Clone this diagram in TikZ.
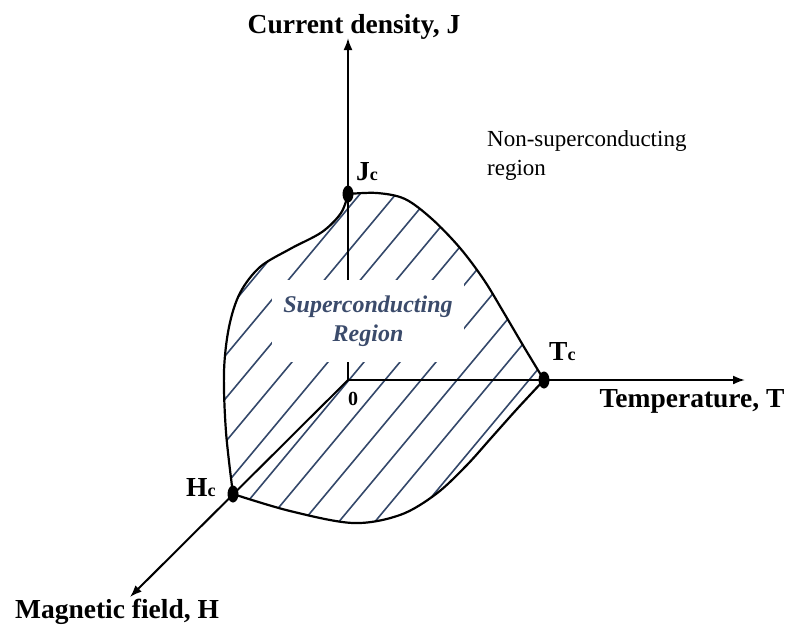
\documentclass[tikz,border=0pt]{standalone}
\usepackage{fontspec}
\setmainfont{Liberation Serif}
\usetikzlibrary{arrows.meta,shapes.geometric}
\definecolor{hatchcol}{HTML}{34486A}
\definecolor{sctext}{HTML}{3B4B6B}
\newcommand\mysubc{{\fontsize{18}{18}\selectfont c}}
\begin{document}
\begin{tikzpicture}[x=1pt,y=-1pt,
  axis/.style={line width=2pt,-{Latex[length=12pt,width=9pt]}},
  bound/.style={line width=2.2pt,line join=round},
  hatchline/.style={hatchcol,line width=1.6pt},
  dot/.style={ellipse,fill=black,inner sep=0pt,minimum width=11pt,minimum height=17pt},
  axlabel/.style={font=\fontsize{27.5}{27.5}\selectfont\bfseries,inner sep=0pt,anchor=base},
  ptlabel/.style={font=\fontsize{27.5}{27.5}\selectfont\bfseries,inner sep=0pt,anchor=base west},
  plainlabel/.style={font=\fontsize{23}{23}\selectfont,inner sep=0pt,anchor=base west},
  sclabel/.style={font=\fontsize{24}{29}\selectfont\bfseries\itshape,text=sctext,align=center,fill=white,inner sep=0pt,minimum width=192pt,minimum height=82pt}
]
\useasboundingbox (0,0) rectangle (790,624);
\fill[white] (0,0) rectangle (790,624);

% coordinates
\coordinate (O) at (348,380);
\coordinate (Jtip) at (348,38);
\coordinate (Ttip) at (745,380);
\coordinate (Htip) at (130,597);

% hatching clipped to the superconducting region
\begin{scope}
  \clip plot[smooth,tension=0.55] coordinates {(348,194) (377,193) (405,199) (432,219) (460,248) (484,280) (504,313) (524,347) (544,380)}
     -- plot[smooth,tension=0.55] coordinates {(544,380) (517,409) (492,437) (466,466) (436,494) (400,515) (353,523) (290,511) (233,494)}
     -- plot[smooth,tension=0.55] coordinates {(233,494) (226,432) (224,372) (229,327) (240,293) (260,267) (290,249) (322,232) (341,213) (348,194)}
     -- cycle;
  \foreach \b in {97,133,169,205,241,277,313,349,385,421,457,493,529,565,601,637,673} {
    \draw[hatchline] (\b-200,620) -- ++(600,-720);
  }
\end{scope}

% boundary
\draw[bound] plot[smooth,tension=0.55] coordinates {(348,194) (377,193) (405,199) (432,219) (460,248) (484,280) (504,313) (524,347) (544,380)}
     -- plot[smooth,tension=0.55] coordinates {(544,380) (517,409) (492,437) (466,466) (436,494) (400,515) (353,523) (290,511) (233,494)}
     -- plot[smooth,tension=0.55] coordinates {(233,494) (226,432) (224,372) (229,327) (240,293) (260,267) (290,249) (322,232) (341,213) (348,194)};

% axes
\draw[axis] (O) -- (Jtip);
\draw[axis] (O) -- (Ttip);
\draw[axis] (O) -- (Htip);

% region label (white box interrupts axis and hatching)
\node[sclabel] (sc) at (368,321) {Superconducting\\Region};

% critical points
\node[dot] (Jc) at (348,194) {};
\node[dot] (Tc) at (544,380) {};
\node[dot] (Hc) at (233,494) {};

% labels
\node[axlabel] (lJ) at (354,33) {Current density, J};
\node[axlabel] (lT) at (692,407) {Temperature, T};
\node[axlabel] (lH) at (117,618) {Magnetic field, H};
\node[ptlabel] (lJc) at (356,180) {J\mysubc};
\node[ptlabel] (lTc) at (549,360) {T\mysubc};
\node[ptlabel] (lHc) at (186,496) {H\mysubc};
\node[font=\fontsize{20}{20}\selectfont\bfseries,inner sep=0pt,anchor=base] (zero) at (353,405) {0};
\node[plainlabel] (ns1) at (487,146) {Non-superconducting};
\node[plainlabel] (ns2) at (487,175) {region};
\end{tikzpicture}
\end{document}
